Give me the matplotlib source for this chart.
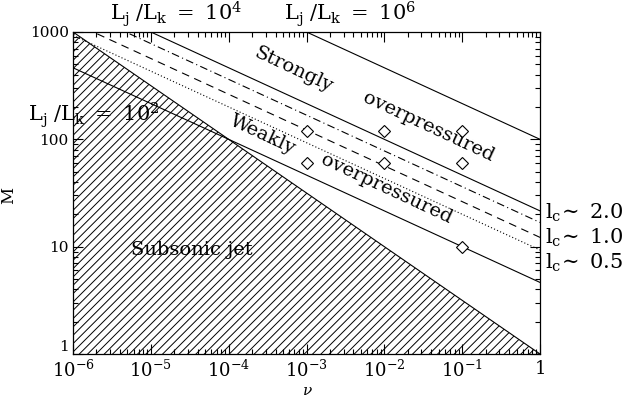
import numpy as np
import matplotlib
matplotlib.use("Agg")
import matplotlib.pyplot as plt
from matplotlib.ticker import LogLocator, FixedLocator, FixedFormatter, NullFormatter

plt.rcParams['font.family'] = ['DejaVu Serif']
plt.rcParams['mathtext.fontset'] = 'dejavuserif'
plt.rcParams['hatch.linewidth'] = 0.7

# ---- data ----
nu_range = [1e-6, 1.0]
M_range = [1.0, 1000.0]
# luminosity ratio lines: M = (ratio / nu)^(1/3)
lum_ratios = [1e2, 1e4, 1e6]
lum_labels = [r"$\mathrm{L_j\ /L_k\ =\ 10^2}$", r"$\mathrm{L_j\ /L_k\ =\ 10^4}$", r"$\mathrm{L_j\ /L_k\ =\ 10^6}$"]
# l_c lines: M at nu=1 (slope -1/3)
lc_values = ["2.0", "1.0", "0.5"]
lc_M_at_nu1 = [16.8, 12.2, 9.3]
lc_styles = ['-.', '--', ':']
# subsonic boundary M = nu^(-1/2)
subsonic_exp = -0.5
# diamonds
diam_nu = [1e-3, 1e-2, 1e-1, 1e-3, 1e-2, 1e-1, 1e-1]
diam_M = [120, 120, 120, 60, 60, 60, 10]

xticks = [1e-6, 1e-5, 1e-4, 1e-3, 1e-2, 1e-1, 1]
xticklabels = [r"$10^{-6}$", r"$10^{-5}$", r"$10^{-4}$", r"$10^{-3}$", r"$10^{-2}$", r"$10^{-1}$", "1"]
yticks = [1, 10, 100, 1000]
yticklabels = ["1", "10", "100", "1000"]

fig = plt.figure(figsize=(6.22, 3.99), dpi=100)
ax = fig.add_axes([0.1174, 0.1128, 0.7508, 0.807])
ax.set_xscale('log')
ax.set_yscale('log')
ax.set_xlim(*nu_range)
ax.set_ylim(*M_range)

nu = np.logspace(-6, 0, 400)
lw = 0.8
# subsonic hatched region
Msub = nu ** subsonic_exp
ax.fill_between(nu, 0.5, Msub, facecolor='none', edgecolor='black', hatch='////', linewidth=0)
ax.plot(nu, Msub, color='black', lw=lw)

for r in lum_ratios:
    ax.plot(nu, (r / nu) ** (1 / 3), color='black', lw=lw)

for m1, ls in zip(lc_M_at_nu1, lc_styles):
    kw = {}
    if ls == '--':
        kw['dashes'] = (7, 5)
    elif ls == '-.':
        kw['dashes'] = (7, 3, 1, 3)
    elif ls == ':':
        kw['dashes'] = (1, 2)
    ax.plot(nu, m1 * nu ** (-1 / 3), color='black', lw=lw, **kw)

ax.plot(diam_nu, diam_M, linestyle='none', marker='D', markersize=6.5,
        markerfacecolor='white', markeredgecolor='black', markeredgewidth=0.8, zorder=5)

# ticks
ax.xaxis.set_major_locator(FixedLocator(xticks))
ax.xaxis.set_major_formatter(FixedFormatter(xticklabels))
ax.yaxis.set_major_locator(FixedLocator(yticks))
ax.yaxis.set_major_formatter(FixedFormatter(yticklabels))
ax.xaxis.set_minor_locator(LogLocator(base=10, subs=np.arange(2, 10), numticks=100))
ax.yaxis.set_minor_locator(LogLocator(base=10, subs=np.arange(2, 10), numticks=100))
ax.xaxis.set_minor_formatter(NullFormatter())
ax.yaxis.set_minor_formatter(NullFormatter())
ax.tick_params(which='both', direction='in', top=True, right=True, width=0.8)
ax.tick_params(which='major', length=7)
ax.tick_params(which='minor', length=3.5)
ax.tick_params(axis='x', which='major', labelsize=13, pad=4)
ax.tick_params(axis='y', which='major', labelsize=11, pad=3)
for s in ax.spines.values():
    s.set_linewidth(0.9)

fig.canvas.draw()
for lbl in ax.get_yticklabels():
    if lbl.get_text() == "1":
        lbl.set_verticalalignment('bottom')

# text annotations (figure pixel coordinates converted)
def fx(px):
    return px / 622.0
def fy(py):
    return 1 - py / 399.0

fig.text(fx(307), fy(391), r"$\nu$", fontsize=11, ha='center', va='center')
fig.text(fx(9), fy(195), "M", fontsize=12, ha='center', va='center', rotation=90)

fig.text(fx(28), fy(115), lum_labels[0], fontsize=15, ha='left', va='center')
fig.text(fx(176), fy(14), lum_labels[1], fontsize=15, ha='center', va='center')
fig.text(fx(350), fy(14), lum_labels[2], fontsize=15, ha='center', va='center')

for val, py in zip(lc_values, [213, 238, 263]):
    fig.text(fx(545), fy(py), r"$\mathrm{l_c}\!\sim$ " + val, fontsize=15, ha='left', va='center')

fig.text(fx(293), fy(70), "Strongly", fontsize=14, rotation=-25, ha='center', va='center', rotation_mode='anchor')
fig.text(fx(428), fy(127), "overpressured", fontsize=14, rotation=-25, ha='center', va='center', rotation_mode='anchor')
fig.text(fx(263), fy(135), "Weakly", fontsize=14, rotation=-25, ha='center', va='center', rotation_mode='anchor')
fig.text(fx(386), fy(189), "overpressured", fontsize=14, rotation=-25, ha='center', va='center', rotation_mode='anchor')
fig.text(fx(192), fy(250), "Subsonic jet", fontsize=14, ha='center', va='center')

fig.savefig("out.png", dpi=100)
